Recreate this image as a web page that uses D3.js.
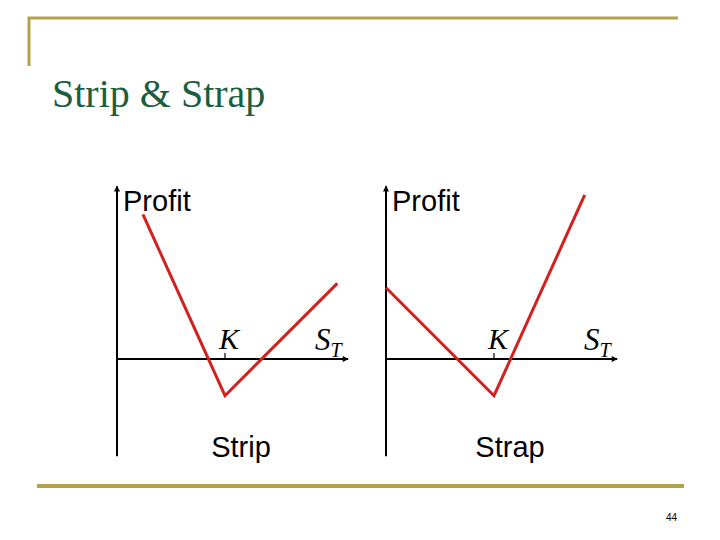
<!DOCTYPE html>
<html><head><meta charset="utf-8">
<script src="https://cdn.jsdelivr.net/npm/d3@7"></script>
<style>html,body{margin:0;padding:0;background:#fff;}</style>
</head><body>
<script>
// Data
const titleText = "Strip & Strap";
const pageNumber = "44";
const strikeK = 50;
const panels = ["Strip", "Strap"];
const stripS = [12, 50, 102];
const stripProfit = [67, -17, 35];
const strapS = [0, 50, 92];
const strapProfit = [33, -17, 76];
const axisXMax = 107;   // S_T axis extent
const axisYMin = -45, axisYMax = 80;

const W = 720, H = 540;
const svg = d3.select("body").append("svg").attr("width", W).attr("height", H);

const gold = "#b3a24a";
// decorative frame
svg.append("path").attr("d", "M29,66 V18 H678").attr("fill","none").attr("stroke", gold).attr("stroke-width", 3);
svg.append("line").attr("x1",37).attr("x2",684).attr("y1",486).attr("y2",486).attr("stroke", gold).attr("stroke-width", 4);

svg.append("text").attr("x", 52).attr("y", 107).text(titleText)
  .attr("font-family", "Liberation Serif, Times New Roman, serif").attr("font-size", 40).attr("fill", "#1b5e3e");
svg.append("text").attr("x", 666).attr("y", 521).text(pageNumber)
  .attr("font-family", "Liberation Sans, Arial, sans-serif").attr("font-size", 10).attr("fill", "#000");

const defs = svg.append("defs");
defs.append("marker").attr("id","arr").attr("viewBox","0 0 10 10").attr("refX",9).attr("refY",5)
  .attr("markerWidth",9).attr("markerHeight",6).attr("markerUnits","userSpaceOnUse").attr("orient","auto")
  .append("path").attr("d","M0,0 L10,5 L0,10 Z").attr("fill","#000");

const series = [
  {name: panels[0], S: stripS, P: stripProfit, ox: 117},
  {name: panels[1], S: strapS, P: strapProfit, ox: 386}
];
const oy = 359, unit = 2.16;

series.forEach(s => {
  const x = d3.scaleLinear().domain([0, 100]).range([s.ox, s.ox + 100*unit]);
  const y = d3.scaleLinear().domain([0, 100]).range([oy, oy - 100*unit]);
  const g = svg.append("g");
  // y axis
  g.append("line").attr("x1", x(0)).attr("x2", x(0)).attr("y1", y(axisYMin)).attr("y2", y(axisYMax))
    .attr("stroke","#000").attr("stroke-width",2).attr("marker-end","url(#arr)");
  // x axis
  g.append("line").attr("x1", x(0)).attr("x2", x(axisXMax)).attr("y1", y(0)).attr("y2", y(0))
    .attr("stroke","#000").attr("stroke-width",2).attr("marker-end","url(#arr)");
  // K tick
  g.append("line").attr("x1", x(strikeK)).attr("x2", x(strikeK)).attr("y1", y(0)-6).attr("y2", y(0))
    .attr("stroke","#000").attr("stroke-width",1.2);
  g.append("text").attr("x", x(strikeK)+4).attr("y", y(0)-10).attr("text-anchor","middle")
    .attr("font-family","Liberation Serif, Times New Roman, serif").attr("font-style","italic")
    .attr("font-size",30).text("K");
  const st = g.append("text").attr("x", x(axisXMax)-33).attr("y", y(0)-9)
    .attr("font-family","Liberation Serif, Times New Roman, serif").attr("font-style","italic").attr("font-size",31);
  st.append("tspan").text("S");
  st.append("tspan").attr("dy", 7).attr("font-size", 20).text("T");
  g.append("text").attr("x", x(0)+6).attr("y", 211)
    .attr("font-family","Liberation Sans, Arial, sans-serif").attr("font-size",29).text("Profit");
  g.append("text").attr("x", x(0)+124).attr("y", 457).attr("text-anchor","middle")
    .attr("font-family","Liberation Sans, Arial, sans-serif").attr("font-size",29).text(s.name);
  const pts = s.S.map((v,i)=>[v, s.P[i]]);
  g.append("path").datum(pts)
    .attr("d", d3.line().x(d=>x(d[0])).y(d=>y(d[1])))
    .attr("fill","none").attr("stroke","#d21f1f").attr("stroke-width",3).attr("stroke-linejoin","miter");
});
</script>
</body></html>
